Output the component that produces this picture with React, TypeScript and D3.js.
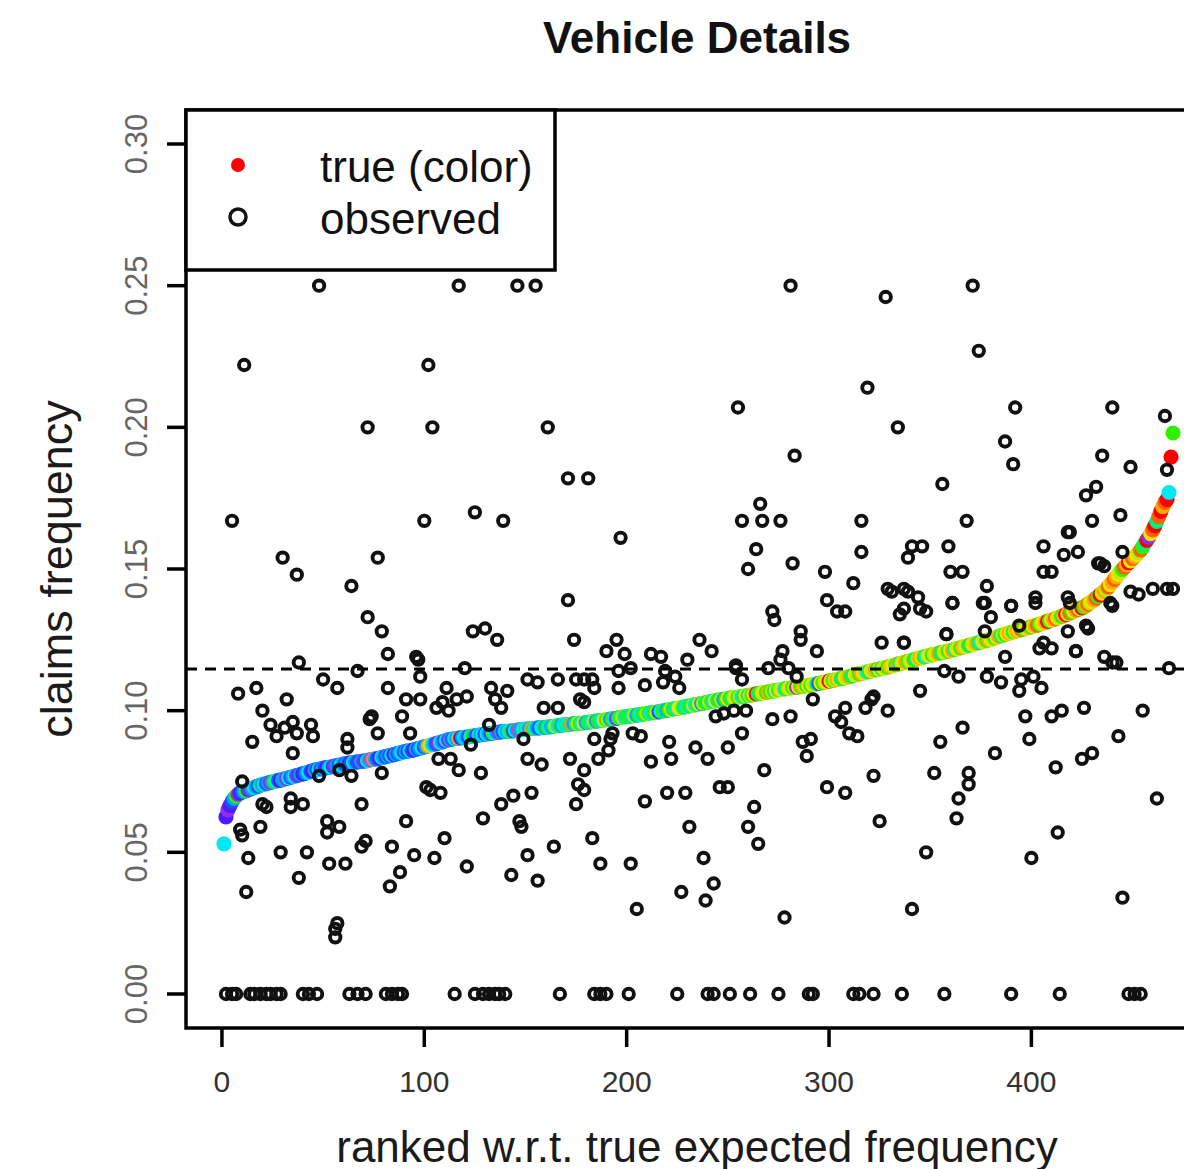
import React from "react";
import * as d3 from "d3";

const WIDTH = 1184;
const HEIGHT = 1169;

// True expected claims frequency, ordered by rank (rank = index + 1)
const trueFreq: number[] = [
  0.053, 0.0625, 0.065, 0.0665, 0.068, 0.069, 0.0698, 0.0705, 0.071, 0.0713,
  0.0715, 0.0717, 0.072, 0.0723, 0.0726, 0.0729, 0.0731, 0.0734, 0.0737, 0.0739,
  0.0741, 0.0743, 0.0745, 0.0747, 0.0749, 0.075, 0.0752, 0.0754, 0.0755, 0.0757,
  0.0759, 0.0761, 0.0763, 0.0765, 0.0767, 0.0769, 0.0771, 0.0773, 0.0775, 0.0777,
  0.0779, 0.0781, 0.0783, 0.0786, 0.0788, 0.079, 0.0792, 0.0793, 0.0795, 0.0796,
  0.0798, 0.0799, 0.08, 0.0802, 0.0803, 0.0805, 0.0806, 0.0808, 0.0809, 0.0811,
  0.0812, 0.0814, 0.0815, 0.0816, 0.0817, 0.0818, 0.0819, 0.082, 0.0821, 0.0822,
  0.0823, 0.0824, 0.0826, 0.0827, 0.0829, 0.083, 0.0831, 0.0833, 0.0835, 0.0836,
  0.0838, 0.084, 0.0841, 0.0843, 0.0845, 0.0847, 0.0849, 0.0851, 0.0853, 0.0855,
  0.0856, 0.0858, 0.0859, 0.086, 0.0862, 0.0864, 0.0866, 0.0868, 0.087, 0.0872,
  0.0874, 0.0876, 0.0878, 0.088, 0.0882, 0.0884, 0.0886, 0.0888, 0.089, 0.0893,
  0.0896, 0.0897, 0.0899, 0.09, 0.0901, 0.0902, 0.0903, 0.0904, 0.0905, 0.0906,
  0.0907, 0.0908, 0.0909, 0.091, 0.0911, 0.0912, 0.0914, 0.0915, 0.0916, 0.0917,
  0.0918, 0.0919, 0.092, 0.0921, 0.0922, 0.0923, 0.0924, 0.0925, 0.0926, 0.0927,
  0.0927, 0.0928, 0.0928, 0.0929, 0.093, 0.0931, 0.0932, 0.0933, 0.0934, 0.0935,
  0.0935, 0.0936, 0.0937, 0.0937, 0.0938, 0.0939, 0.0939, 0.094, 0.0941, 0.0941,
  0.0942, 0.0943, 0.0944, 0.0945, 0.0946, 0.0947, 0.0948, 0.0949, 0.095, 0.0951,
  0.0951, 0.0952, 0.0953, 0.0954, 0.0954, 0.0955, 0.0955, 0.0956, 0.0957, 0.0958,
  0.0959, 0.096, 0.0961, 0.0962, 0.0963, 0.0964, 0.0965, 0.0966, 0.0967, 0.0968,
  0.0969, 0.097, 0.0971, 0.0972, 0.0973, 0.0975, 0.0976, 0.0977, 0.0978, 0.0979,
  0.098, 0.0981, 0.0982, 0.0983, 0.0984, 0.0985, 0.0986, 0.0988, 0.0989, 0.099,
  0.0991, 0.0992, 0.0993, 0.0994, 0.0995, 0.0996, 0.0998, 0.0999, 0.1, 0.1002,
  0.1003, 0.1004, 0.1006, 0.1007, 0.1008, 0.101, 0.1011, 0.1012, 0.1014, 0.1015,
  0.1017, 0.1018, 0.1019, 0.1021, 0.1022, 0.1024, 0.1025, 0.1027, 0.1028, 0.103,
  0.1031, 0.1033, 0.1034, 0.1035, 0.1037, 0.1038, 0.1039, 0.104, 0.1041, 0.1043,
  0.1044, 0.1045, 0.1046, 0.1047, 0.1048, 0.1049, 0.105, 0.1051, 0.1053, 0.1054,
  0.1055, 0.1056, 0.1058, 0.1059, 0.106, 0.1061, 0.1063, 0.1064, 0.1065, 0.1066,
  0.1068, 0.1069, 0.107, 0.1071, 0.1073, 0.1074, 0.1075, 0.1077, 0.1078, 0.1079,
  0.108, 0.1081, 0.1082, 0.1083, 0.1084, 0.1085, 0.1086, 0.1087, 0.1088, 0.1089,
  0.109, 0.1092, 0.1093, 0.1095, 0.1096, 0.1098, 0.1099, 0.1101, 0.1102, 0.1104,
  0.1105, 0.1107, 0.1109, 0.111, 0.1112, 0.1113, 0.1115, 0.1117, 0.1118, 0.112,
  0.1122, 0.1124, 0.1126, 0.1128, 0.113, 0.1131, 0.1133, 0.1135, 0.1137, 0.1139,
  0.1141, 0.1142, 0.1144, 0.1146, 0.1147, 0.1149, 0.115, 0.1152, 0.1154, 0.1156,
  0.1158, 0.116, 0.1162, 0.1164, 0.1166, 0.1168, 0.117, 0.1172, 0.1174, 0.1176,
  0.1178, 0.118, 0.1182, 0.1184, 0.1186, 0.1188, 0.119, 0.1192, 0.1194, 0.1196,
  0.1197, 0.1199, 0.12, 0.1202, 0.1204, 0.1205, 0.1207, 0.1209, 0.121, 0.1212,
  0.1214, 0.1216, 0.1218, 0.122, 0.1222, 0.1224, 0.1226, 0.1228, 0.123, 0.1232,
  0.1234, 0.1236, 0.1238, 0.124, 0.1242, 0.1244, 0.1246, 0.1248, 0.125, 0.1252,
  0.1254, 0.1257, 0.1259, 0.1262, 0.1265, 0.1267, 0.1269, 0.1272, 0.1274, 0.1276,
  0.1278, 0.128, 0.1282, 0.1284, 0.1286, 0.1288, 0.129, 0.1292, 0.1294, 0.1296,
  0.1298, 0.13, 0.1302, 0.1305, 0.1307, 0.131, 0.1312, 0.1315, 0.1318, 0.132,
  0.1322, 0.1325, 0.1328, 0.133, 0.1333, 0.1336, 0.1339, 0.1342, 0.1345, 0.1348,
  0.1351, 0.1354, 0.1357, 0.136, 0.1363, 0.1366, 0.1371, 0.1376, 0.1381, 0.1386,
  0.1391, 0.1397, 0.1403, 0.1409, 0.1415, 0.1421, 0.1428, 0.1436, 0.1445, 0.1454,
  0.1463, 0.1472, 0.1481, 0.149, 0.1499, 0.1507, 0.1515, 0.1522, 0.1529, 0.1537,
  0.1544, 0.1551, 0.1558, 0.1567, 0.1578, 0.159, 0.1601, 0.1612, 0.1625, 0.1638,
  0.1652, 0.1668, 0.1685, 0.1703, 0.172, 0.1735, 0.1745, 0.177, 0.1895, 0.198,
];

// Colour class of each true point (one letter per rank)
const trueColorCodes: string = [
  "cvpvbkgpvb", "kgbpkckbsk", "cbkpkgcbvk", "kpcbkcpbkv", "bkcbvkbcbk",
  "bvkcbpkbck", "bkvbckbbkp", "bckmqkbvck", "bkbcvkbkcb", "kbcbvkbkcb",
  "kayckbpckb", "cpkbckavkc", "kbcgkbckcb", "ckbgckpkbc", "kcgbckmkcs",
  "ckqgckbcsk", "gckslcgkcs", "cgqkslgcyk", "sgclkgscyg", "lkgcpsglcg",
  "sgclkgcsgl", "gcsglbcgsk", "glsgcylgsc", "gslcgyklgs", "lgcysglkgy",
  "gslyglcgys", "lgyrsglyga", "glsyglycgl", "yglpygalgy", "gylsbyglyr",
  "yglaysgyla", "gsylgaylcg", "ylagysylga", "lygaslyagl", "ygslaygcly",
  "glyagsylgy", "aslygalysg", "ylagcylgay", "lgyaslgyay", "glayoglyag",
  "yaoglyargy", "aoylgaryog", "yaolrgaoly", "aogryaloya", "oaylgoaryo",
  "aylogsrpyo", "rsoraorcrg",
].join("");

const palette: Record<string, string> = {
  r: "#ff0000",
  o: "#ff6000",
  a: "#ffa800",
  y: "#f2e400",
  l: "#b4f000",
  g: "#30f000",
  s: "#00f080",
  c: "#00e8f0",
  k: "#00a4ff",
  b: "#1e50ff",
  v: "#4a1cff",
  p: "#9030e0",
  m: "#e040a0",
  q: "#e09070",
};

// Observed claims frequency: [rank, frequency]
const observed: [number, number][] = [
  [2, 0], [5, 0], [7, 0], [5, 0.167], [11, 0.222], [8, 0.106], [10, 0.075], [9, 0.058], [10, 0.056],
  [13, 0.048], [12, 0.036], [15, 0.089], [17, 0.108], [19, 0.059], [20, 0.067], [14, 0], [16, 0], [19, 0],
  [20, 0.1], [24, 0.095], [27, 0.091], [32, 0.104], [35, 0.096], [35, 0.085], [37, 0.092], [34, 0.069],
  [34, 0.066], [22, 0.066], [29, 0.05], [38, 0.041], [30, 0.154], [37, 0.148], [38, 0.117], [22, 0],
  [24, 0], [27, 0], [29, 0], [40, 0], [31, 0.094], [40, 0.067],
  [43, 0], [47, 0], [48, 0.25], [42, 0.05], [44, 0.095], [45, 0.091], [50, 0.111], [52, 0.061], [52, 0.057],
  [58, 0.059], [57, 0.108], [48, 0.077], [56, 0.023], [56, 0.02], [57, 0.025], [53, 0.046], [58, 0.079],
  [63, 0], [67, 0], [71, 0], [62, 0.09], [62, 0.087], [64, 0.077], [67, 0.114], [69, 0.067], [71, 0.054],
  [69, 0.052], [72, 0.133], [72, 0.2], [74, 0.098], [77, 0.092], [77, 0.154], [79, 0.128], [79, 0.078],
  [64, 0.144], [73, 0.097], [61, 0.046],
  [81, 0], [84, 0], [87, 0], [89, 0], [82, 0.12], [82, 0.108], [84, 0.052], [83, 0.038], [88, 0.043],
  [89, 0.098], [91, 0.104], [93, 0.092], [91, 0.061], [96, 0.119], [98, 0.112], [97, 0.118], [95, 0.049],
  [98, 0.104],
  [100, 0.167], [102, 0.222], [104, 0.2], [106, 0.101], [109, 0.103], [107, 0.083], [113, 0.083],
  [103, 0.072], [105, 0.048], [110, 0.055], [111, 0.108], [116, 0.104], [117, 0.079], [117, 0.25],
  [115, 0], [108, 0.071], [101, 0.073], [112, 0.1],
  [120, 0.115], [121, 0.105], [121, 0.045], [124, 0.128], [125, 0.17], [128, 0.078], [129, 0.062],
  [130, 0.129], [133, 0.108], [135, 0.104], [136, 0.125], [138, 0.101], [138, 0.067], [139, 0.167],
  [125, 0], [129, 0], [132, 0], [135, 0], [137, 0], [132, 0.095], [123, 0.088],
  [140, 0], [141, 0.107], [144, 0.07], [143, 0.042], [146, 0.25], [147, 0.061], [148, 0.059], [149, 0.09],
  [151, 0.111], [151, 0.083], [151, 0.049], [153, 0.071], [155, 0.25], [156, 0.11], [156, 0.04],
  [158, 0.081], [159, 0.101],
  [161, 0.2], [164, 0.052], [166, 0.111], [166, 0.101], [167, 0], [171, 0.182], [171, 0.139], [172, 0.083],
  [174, 0.125], [175, 0.111], [175, 0.067], [177, 0.104], [176, 0.074], [181, 0.182],
  [195, 0.125], [190, 0.121], [199, 0.12], [212, 0.12], [217, 0.119], [230, 0.118], [236, 0.125],
  [242, 0.121], [254, 0.115], [257, 0.111], [272, 0.135], [273, 0.132], [286, 0.128], [286, 0.125],
  [294, 0.121], [299, 0.139], [304, 0.135], [308, 0.135], [335, 0.134], [345, 0.136], [361, 0.138],
  [377, 0.138], [390, 0.137], [402, 0.138], [419, 0.138], [439, 0.138], [277, 0.121], [326, 0.124],
  [337, 0.124], [358, 0.127], [377, 0.128], [410, 0.122], [422, 0.121], [428, 0.129], [404, 0.122],
  [387, 0.119], [357, 0.114], [364, 0.112], [378, 0.112], [385, 0.11], [395, 0.111], [401, 0.112],
  [405, 0.108], [394, 0.107], [440, 0.117], [442, 0.117], [468, 0.115], [345, 0.107], [329, 0.1],
  [366, 0.094], [355, 0.089], [397, 0.098], [410, 0.098], [415, 0.1], [426, 0.101], [455, 0.1],
  [399, 0.09], [443, 0.091], [382, 0.085], [412, 0.08], [425, 0.083], [430, 0.085], [352, 0.078],
  [369, 0.078], [369, 0.074], [364, 0.069], [363, 0.062], [413, 0.057], [462, 0.069], [322, 0.077],
  [325, 0.061], [348, 0.05], [400, 0.048], [445, 0.034], [308, 0.071], [299, 0.073], [268, 0.079],
  [263, 0.066], [260, 0.059], [265, 0.053], [231, 0.059], [238, 0.048], [243, 0.039], [227, 0.036],
  [202, 0.046], [187, 0.046], [183, 0.055], [209, 0.068], [220, 0.071], [229, 0.071], [246, 0.073],
  [250, 0.073], [179, 0.072], [179, 0.079], [186, 0.083], [191, 0.086], [212, 0.082], [222, 0.083],
  [234, 0.087], [240, 0.083], [250, 0.087], [257, 0.092], [287, 0.089], [291, 0.09], [289, 0.084],
  [272, 0.097], [281, 0.098], [292, 0.104], [303, 0.098], [306, 0.096], [310, 0.092], [314, 0.091],
  [322, 0.105], [321, 0.104], [318, 0.101], [308, 0.101], [179, 0.111], [183, 0.111], [184, 0.108],
  [179, 0.103], [196, 0.108], [209, 0.109], [218, 0.11], [224, 0.112], [226, 0.108], [244, 0.098],
  [248, 0.099], [253, 0.1], [259, 0.1], [196, 0.114], [202, 0.115], [219, 0.114], [254, 0.116],
  [270, 0.115], [280, 0.115], [284, 0.112], [276, 0.118], [203, 0.092], [207, 0.091], [192, 0.09],
  [184, 0.09], [193, 0.092], [221, 0.089],
  [392, 0.207], [440, 0.207], [387, 0.195], [391, 0.187], [435, 0.19], [449, 0.186], [466, 0.204],
  [467, 0.185], [356, 0.18], [427, 0.176], [432, 0.179], [368, 0.167], [430, 0.167], [419, 0.163],
  [418, 0.163], [341, 0.158], [346, 0.158], [339, 0.154], [359, 0.158], [406, 0.158], [416, 0.155],
  [423, 0.156], [433, 0.152], [445, 0.156], [360, 0.149], [366, 0.149], [406, 0.149], [410, 0.149],
  [337, 0.143], [339, 0.142], [378, 0.144], [361, 0.138], [376, 0.138], [390, 0.137], [402, 0.14],
  [418, 0.14], [380, 0.133], [348, 0.135], [337, 0.136], [434, 0.152], [436, 0.151], [449, 0.142],
  [453, 0.141], [460, 0.143], [467, 0.143], [440, 0.137], [427, 0.13], [418, 0.128], [422, 0.121],
  [436, 0.119], [358, 0.127], [337, 0.124], [406, 0.124], [394, 0.13], [470, 0.143],
  [281, 0.25], [328, 0.246], [371, 0.25], [374, 0.227], [319, 0.214], [255, 0.207], [334, 0.2],
  [283, 0.19], [266, 0.173], [197, 0.161], [257, 0.167], [267, 0.167], [276, 0.167], [316, 0.167],
  [264, 0.157], [282, 0.152], [316, 0.156], [260, 0.15], [298, 0.149], [312, 0.145], [329, 0.143],
  [331, 0.142], [444, 0.169], [344, 0.14],
  [184, 0], [187, 0], [190, 0], [201, 0], [225, 0], [240, 0], [243, 0], [251, 0], [261, 0], [275, 0],
  [290, 0], [292, 0], [312, 0], [315, 0], [322, 0], [336, 0], [357, 0], [390, 0], [414, 0], [448, 0],
  [451, 0], [454, 0],
  [205, 0.03], [278, 0.027], [341, 0.03], [239, 0.033],
];

// Portfolio average claims frequency (dashed reference line)
const meanFreq = 0.1147;

const xTicks = [0, 100, 200, 300, 400];
const yTicks = [0, 0.05, 0.1, 0.15, 0.2, 0.25, 0.3];
const yTickLabels = ["0.00", "0.05", "0.10", "0.15", "0.20", "0.25", "0.30"];

const legendItems = [
  { label: "true (color)", kind: "dot" },
  { label: "observed", kind: "ring" },
];

const FONT = "'Liberation Sans', Arial, Helvetica, sans-serif";

export default function App() {
  const n = trueFreq.length;
  const pad = (n - 1) * 0.04;
  const plot = { left: 186, right: 1211, top: 110, bottom: 1028 };

  const x = d3.scaleLinear().domain([1 - pad, n + pad]).range([plot.left, plot.right]);
  const y = d3.scaleLinear().domain([-0.012, 0.312]).range([plot.bottom, plot.top]);

  const legend = { x: plot.left, y: plot.top, w: 369, h: 160 };

  return (
    <svg
      width={WIDTH}
      height={HEIGHT}
      viewBox={`0 0 ${WIDTH} ${HEIGHT}`}
      style={{ position: "absolute", left: 0, top: 0, display: "block", background: "#fff" }}
      fontFamily={FONT}
    >
      <rect x={0} y={0} width={WIDTH} height={HEIGHT} fill="#fff" />

      {/* title */}
      <text x={697} y={53} textAnchor="middle" fontSize={44} fontWeight="bold" fill="#111">
        Vehicle Details
      </text>

      {/* true expected frequency, coloured */}
      <g>
        {trueFreq.map((v, i) => (
          <circle
            key={`t${i}`}
            cx={x(i + 1)}
            cy={y(v)}
            r={7.6}
            fill={palette[trueColorCodes[i]] ?? "#00a4ff"}
          />
        ))}
      </g>

      {/* observed frequency */}
      <g fill="none" stroke="#111" strokeWidth={3.9}>
        {observed.map(([r, v], i) => (
          <circle key={`o${i}`} cx={x(r)} cy={y(v)} r={5.2} />
        ))}
      </g>

      {/* average line */}
      <line
        x1={plot.left}
        x2={plot.right}
        y1={y(meanFreq)}
        y2={y(meanFreq)}
        stroke="#000"
        strokeWidth={3}
        strokeDasharray="11 8"
      />

      {/* plot frame */}
      <rect
        x={plot.left}
        y={plot.top}
        width={plot.right - plot.left}
        height={plot.bottom - plot.top}
        fill="none"
        stroke="#000"
        strokeWidth={3.5}
      />

      {/* y axis */}
      <g>
        {yTicks.map((t, i) => (
          <g key={`yt${i}`}>
            <line x1={plot.left - 19} x2={plot.left} y1={y(t)} y2={y(t)} stroke="#000" strokeWidth={3.5} />
            <text
              transform={`translate(147,${y(t)}) rotate(-90)`}
              textAnchor="middle"
              fontSize={31}
              fill="#666"
            >
              {yTickLabels[i]}
            </text>
          </g>
        ))}
      </g>

      {/* x axis */}
      <g>
        {xTicks.map((t) => (
          <g key={`xt${t}`}>
            <line x1={x(t)} x2={x(t)} y1={plot.bottom} y2={plot.bottom + 19} stroke="#000" strokeWidth={3.5} />
            <text x={x(t)} y={1092} textAnchor="middle" fontSize={30} fill="#333">
              {t}
            </text>
          </g>
        ))}
      </g>

      {/* axis titles */}
      <text x={697} y={1162} textAnchor="middle" fontSize={44} fill="#1a1a1a">
        ranked w.r.t. true expected frequency
      </text>
      <text
        transform={`translate(72,${(plot.top + plot.bottom) / 2}) rotate(-90)`}
        textAnchor="middle"
        fontSize={45}
        fill="#1a1a1a"
      >
        claims frequency
      </text>

      {/* legend */}
      <g>
        <rect x={legend.x} y={legend.y} width={legend.w} height={legend.h} fill="#fff" stroke="#000" strokeWidth={3.5} />
        {legendItems.map((it, i) => {
          const cy = 165 + i * 52;
          return (
            <g key={it.label}>
              {it.kind === "dot" ? (
                <circle cx={238} cy={cy} r={7} fill="#ff0000" />
              ) : (
                <circle cx={238} cy={cy} r={8} fill="none" stroke="#111" strokeWidth={3.5} />
              )}
              <text x={320} y={cy + 17} fontSize={44} fill="#111">
                {it.label}
              </text>
            </g>
          );
        })}
      </g>
    </svg>
  );
}
